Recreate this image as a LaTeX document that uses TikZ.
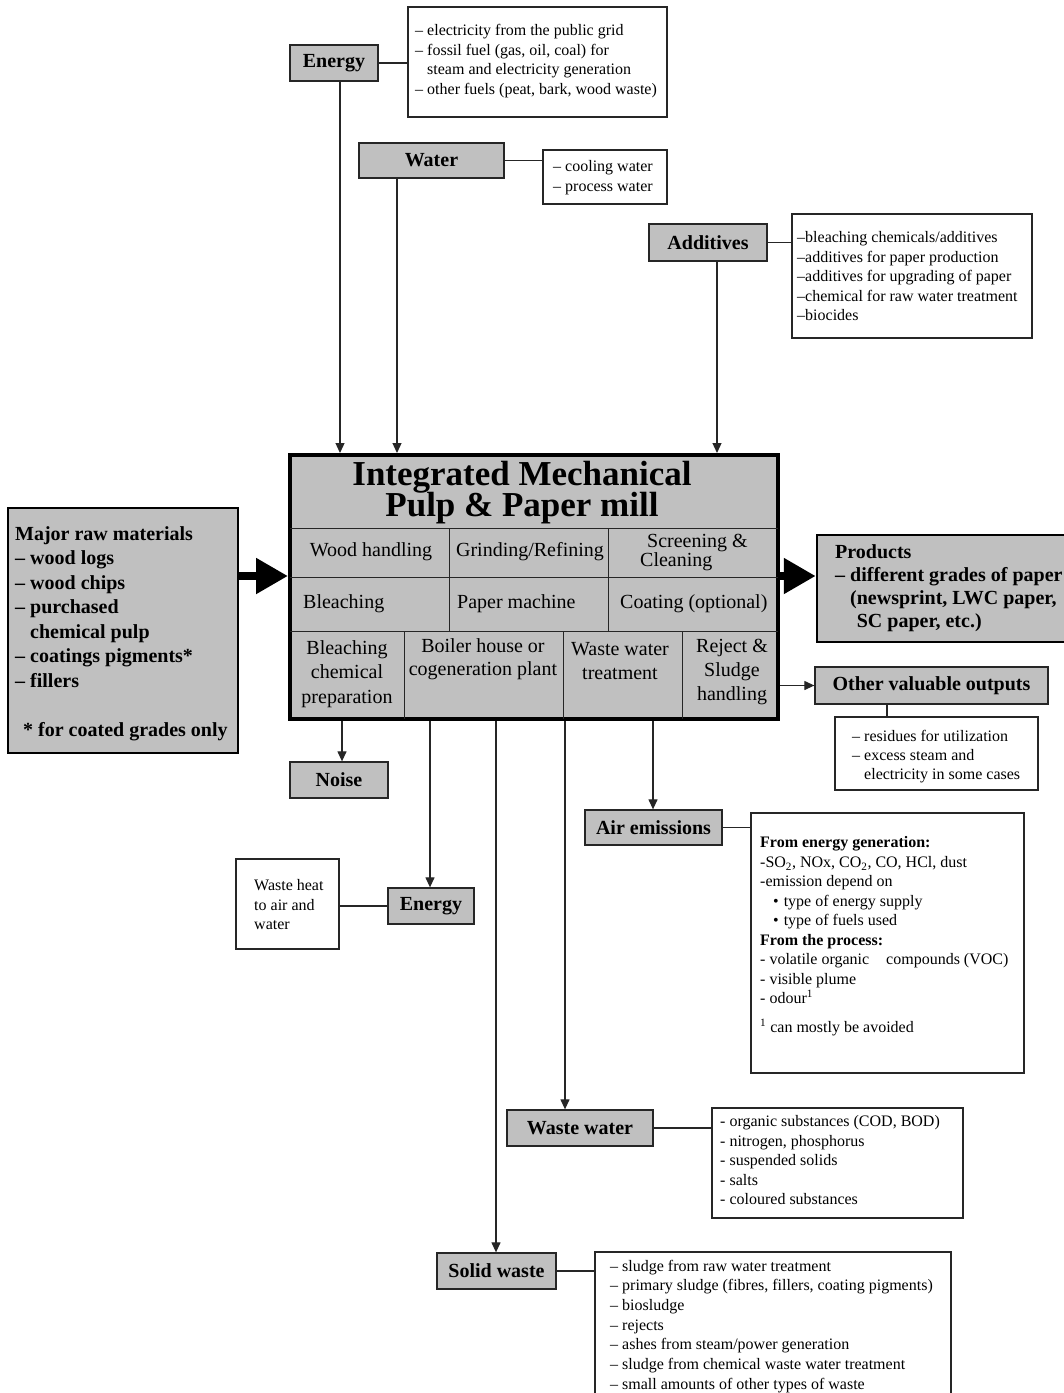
\documentclass[tikz,border=0pt]{standalone}
\usepackage{fontspec}
\setmainfont{Liberation Serif}
\usetikzlibrary{arrows.meta}
\definecolor{boxgray}{RGB}{192,192,192}
\begin{document}
\begin{tikzpicture}[x=1pt,y=-1pt,
  gbox/.style={draw=black!85, fill=boxgray, line width=1.3pt, inner sep=0pt, font=\fontsize{20}{24}\selectfont\bfseries},
  wbox/.style={draw=black!85, fill=white, line width=1.1pt, inner sep=0pt},
  ltxt/.style={anchor=north west, inner sep=0pt, align=left, font=\fontsize{16}{19.5}\selectfont},
  ctxt/.style={inner sep=0pt, align=center, font=\fontsize{20}{24.5}\selectfont},
  wtxt/.style={inner sep=0pt, anchor=west, font=\fontsize{20}{24.5}\selectfont},
  ttxt/.style={inner sep=0pt, anchor=base, font=\fontsize{35}{31}\selectfont\bfseries},
  conn/.style={line width=1.2pt, draw=black!85},
  arr/.style={conn, -{Triangle[length=10pt,width=9pt]}},
  big/.style={line width=8pt, -{Triangle[length=32pt,width=34pt]}},
  grid/.style={line width=1pt, draw=black!85}
]
\path[use as bounding box] (0,0) rectangle (1064,1393);
\clip (0,0) rectangle (1064,1393);

% ---------- inputs ----------
\node[gbox, minimum width=88pt, minimum height=36pt] (eIn) at (334,63) {Energy};
\node[wbox, minimum width=259pt, minimum height=110pt] (eList) at (537.5,62) {};
\node[ltxt] (eListT) at (415,24.5) {– electricity from the public grid\\– fossil fuel (gas, oil, coal) for\\\hphantom{– }steam and electricity generation\\– other fuels (peat, bark, wood waste)};

\node[gbox, minimum width=145pt, minimum height=35pt] (water) at (431.5,160.5) {Water};
\node[wbox, minimum width=124pt, minimum height=54pt] (wList) at (605,177) {};
\node[ltxt] (wListT) at (553,160.6) {– cooling water\\– process water};

\node[gbox, minimum width=118pt, minimum height=37pt] (add) at (708,242.5) {Additives};
\node[wbox, minimum width=240pt, minimum height=124pt] (aList) at (912,276) {};
\node[ltxt] (aListT) at (797,231.6) {–bleaching chemicals/additives\\–additives for paper production\\–additives for upgrading of paper\\–chemical for raw water treatment\\–biocides};

\draw[conn] (eIn.east) -- (eIn.east -| eList.west);
\draw[conn] (water.east) -- (water.east -| wList.west);
\draw[conn] (add.east) -- (add.east -| aList.west);

% ---------- main box ----------
\node[draw=black, line width=4pt, fill=boxgray, minimum width=488pt, minimum height=264pt, inner sep=0pt] (main) at (534,587) {};
\draw[grid] (290,528) -- (778,528);
\draw[grid] (290,577.5) -- (778,577.5);
\draw[grid] (290,631) -- (778,631);
\draw[grid] (449,528) -- (449,631);
\draw[grid] (608,528) -- (608,631);
\draw[grid] (404,631) -- (404,719);
\draw[grid] (563,631) -- (563,719);
\draw[grid] (682,631) -- (682,719);

\node[ttxt] (title) at (522,485) {\begin{tabular}[t]{@{}c@{}}Integrated Mechanical\\[-2pt]Pulp \& Paper mill\end{tabular}};
\node[ctxt] (c11) at (371,552) {Wood handling};
\node[ctxt] (c12) at (530,552) {Grinding/Refining};
\node[wtxt, align=left, font=\fontsize{20}{19}\selectfont] (c13) at (640,552.5) {\hspace*{7pt}Screening \&\\Cleaning};
\node[wtxt] (c21) at (303,604) {Bleaching};
\node[wtxt] (c22) at (457,604) {Paper machine};
\node[wtxt] (c23) at (620,604) {Coating (optional)};
\node[ctxt] (c31) at (347,674) {Bleaching\\chemical\\preparation};
\node[ctxt, font=\fontsize{20}{23}\selectfont] (c32) at (483,659) {Boiler house or\\cogeneration plant};
\node[ctxt, font=\fontsize{20}{24}\selectfont] (c33) at (620,661) {Waste water\\treatment};
\node[ctxt, font=\fontsize{20}{24}\selectfont] (c34) at (732,672) {Reject \&\\Sludge\\handling};

\coordinate (xE) at (340,0);
\coordinate (xW) at (397,0);
\coordinate (xA) at (717,0);
\draw[arr] (eIn.south -| xE) -- (main.north -| xE);
\draw[arr] (water.south -| xW) -- (main.north -| xW);
\draw[arr] (add.south -| xA) -- (main.north -| xA);

% ---------- raw materials & products ----------
\node[draw=black, line width=2.5pt, fill=boxgray, minimum width=230pt, minimum height=245pt, inner sep=0pt] (raw) at (123,630.5) {};
\node[anchor=north west, inner sep=0pt, align=left, font=\fontsize{20}{24.5}\selectfont\bfseries] (rawT) at (15,526) {Major raw materials\\– wood logs\\– wood chips\\– purchased\\\hphantom{– }chemical pulp\\– coatings pigments*\\– fillers\\[25pt]\hspace*{8pt}* for coated grades only};

\node[draw=black, line width=2.5pt, fill=boxgray, minimum width=263pt, minimum height=107pt, inner sep=0pt] (prod) at (948.5,588.5) {};
\node[anchor=north west, inner sep=0pt, align=left, font=\fontsize{20}{23.3}\selectfont\bfseries] (prodT) at (835,544) {Products\\– different grades of paper\\\hphantom{– }(newsprint, LWC paper,\\\hphantom{– (}SC paper, etc.)};

\coordinate (yB) at (0,576);
\draw[big] (raw.east |- yB) -- (main.west |- yB);
\draw[big] (main.east |- yB) -- (prod.west |- yB);

% ---------- other valuable outputs ----------
\node[gbox, minimum width=233pt, minimum height=37pt] (other) at (931.5,685.5) {Other valuable outputs};
\node[wbox, minimum width=203pt, minimum height=73pt] (oList) at (936.5,753.5) {};
\node[ltxt, font=\fontsize{16}{19}\selectfont] (oListT) at (852,729.6) {– residues for utilization\\– excess steam and\\\hphantom{– }electricity in some cases};
\draw[arr] (other.west -| main.east) -- (other.west);
\coordinate (xO) at (887,0);
\draw[conn] (other.south -| xO) -- (oList.north -| xO);

% ---------- outputs below ----------
\node[gbox, minimum width=98pt, minimum height=36pt] (noise) at (339,780) {Noise};
\node[gbox, minimum width=86pt, minimum height=36pt] (eOut) at (431,906) {Energy};
\node[wbox, minimum width=103pt, minimum height=90pt] (heat) at (287.5,904) {};
\node[ltxt] (heatT) at (254,879.6) {Waste heat\\to air and\\water};
\draw[conn] (eOut.west) -- (eOut.west -| heat.east);

\node[gbox, minimum width=137pt, minimum height=35pt] (air) at (653.5,827.5) {Air emissions};
\node[wbox, minimum width=273pt, minimum height=260pt] (airL) at (887.5,943) {};
\node[ltxt] (airT) at (760,836.6) {\textbf{From energy generation:}\\-SO\textsubscript{2}, NOx, CO\textsubscript{2}, CO, HCl, dust\\-emission depend on\\\hspace*{13pt}\textbullet\hspace{5pt}type of energy supply\\\hspace*{13pt}\textbullet\hspace{5pt}type of fuels used\\\textbf{From the process:}\\- volatile organic\hspace{13pt} compounds (VOC)\\- visible plume\\- odour\textsuperscript{1}\\[9pt]\textsuperscript{1} can mostly be avoided};
\draw[conn] (air.east) -- (air.east -| airL.west);

\node[gbox, minimum width=146pt, minimum height=36pt] (ww) at (580,1128) {Waste water};
\node[wbox, minimum width=251pt, minimum height=110pt] (wwL) at (837.5,1163) {};
\node[ltxt] (wwT) at (720,1115.6) {- organic substances (COD, BOD)\\- nitrogen, phosphorus\\- suspended solids\\- salts\\- coloured substances};
\draw[conn] (ww.east) -- (ww.east -| wwL.west);

\node[gbox, minimum width=119pt, minimum height=36pt] (solid) at (496.5,1271) {Solid waste};
\node[wbox, minimum width=356pt, minimum height=168pt] (sL) at (773,1336) {};
\node[ltxt, font=\fontsize{16}{19.7}\selectfont] (sT) at (610,1259.6) {– sludge from raw water treatment\\– primary sludge (fibres, fillers, coating pigments)\\– biosludge\\– rejects\\– ashes from steam/power generation\\– sludge from chemical waste water treatment\\– small amounts of other types of waste};
\draw[conn] (solid.east) -- (solid.east -| sL.west);

\coordinate (xN) at (342,0);
\coordinate (xEo) at (430,0);
\coordinate (xS) at (496,0);
\coordinate (xWw) at (565,0);
\coordinate (xAi) at (653,0);
\draw[arr] (main.south -| xN) -- (noise.north -| xN);
\draw[arr] (main.south -| xEo) -- (eOut.north -| xEo);
\draw[arr] (main.south -| xS) -- (solid.north -| xS);
\draw[arr] (main.south -| xWw) -- (ww.north -| xWw);
\draw[arr] (main.south -| xAi) -- (air.north -| xAi);
\end{tikzpicture}
\end{document}
